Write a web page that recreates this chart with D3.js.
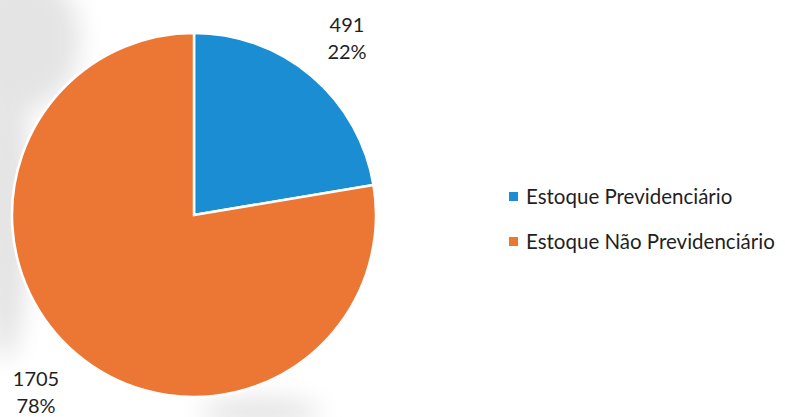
<!DOCTYPE html>
<html>
<head>
<meta charset="utf-8">
<script src="https://cdn.jsdelivr.net/npm/d3@7"></script>
<style>
  html, body { margin: 0; padding: 0; background: #fff; }
  svg { display: block; }
  text { font-family: Lato, "Open Sans", sans-serif; fill: #1f1f1f; }
</style>
</head>
<body>
<svg id="chart" width="785" height="417"></svg>
<script>
// Stock split: pension vs. non-pension
const categories = ["Estoque Previdenciário", "Estoque Não Previdenciário"];
const values = [491, 1705];
const colors = ["#1b8dd3", "#ec7634"];

const width = 785, height = 417;
const cx = 194, cy = 215, radius = 182;

const svg = d3.select("#chart");

// faint paper shading behind the left side of the pie
const defs = svg.append("defs");
defs.append("filter").attr("id", "soft")
  .attr("x", "-50%").attr("y", "-50%").attr("width", "200%").attr("height", "200%")
  .append("feGaussianBlur").attr("stdDeviation", 12);
const shade = svg.append("g").attr("filter", "url(#soft)").attr("fill", "#e4e4e4");
shade.append("ellipse").attr("cx", 20).attr("cy", 40).attr("rx", 60).attr("ry", 70);
shade.append("ellipse").attr("cx", 5).attr("cy", 200).attr("rx", 25).attr("ry", 160);
shade.append("ellipse").attr("cx", 260).attr("cy", 412).attr("rx", 60).attr("ry", 14);

const data = categories.map((c, i) => ({ name: c, value: values[i], color: colors[i] }));
const total = d3.sum(values);

const pie = d3.pie().value(d => d.value).sort(null);
const arc = d3.arc().innerRadius(0).outerRadius(radius);
const arcs = pie(data);

const g = svg.append("g").attr("transform", `translate(${cx},${cy})`);

g.selectAll("path.slice")
  .data(arcs)
  .join("path")
  .attr("class", "slice")
  .attr("d", arc)
  .attr("fill", d => d.data.color)
  .attr("stroke", "#fff")
  .attr("stroke-width", 2.5)
  .attr("stroke-linejoin", "miter");

// Data labels: value above, percentage below, placed outside each slice
const labelPos = [
  { x: 347, y: 32 },
  { x: 36, y: 386 }
];
const fmtPct = d => Math.round(d / total * 100) + "%";

arcs.forEach((a, i) => {
  const p = labelPos[i];
  const t = svg.append("text")
    .attr("x", p.x).attr("y", p.y)
    .attr("text-anchor", "middle")
    .style("font-size", "20px");
  t.append("tspan").attr("x", p.x).text(a.data.value);
  t.append("tspan").attr("x", p.x).attr("dy", 27).text(fmtPct(a.data.value));
});

// Legend
const legend = svg.append("g").attr("transform", "translate(509,197)");
const rows = legend.selectAll("g.row")
  .data(data)
  .join("g")
  .attr("class", "row")
  .attr("transform", (d, i) => `translate(0,${i * 45})`);

rows.append("rect")
  .attr("x", 0).attr("y", -5)
  .attr("width", 9).attr("height", 9)
  .attr("fill", d => d.color);

rows.append("text")
  .attr("x", 17).attr("y", 0)
  .attr("dy", "0.35em")
  .style("font-size", "20.5px")
  .text(d => d.name);
</script>
</body>
</html>
